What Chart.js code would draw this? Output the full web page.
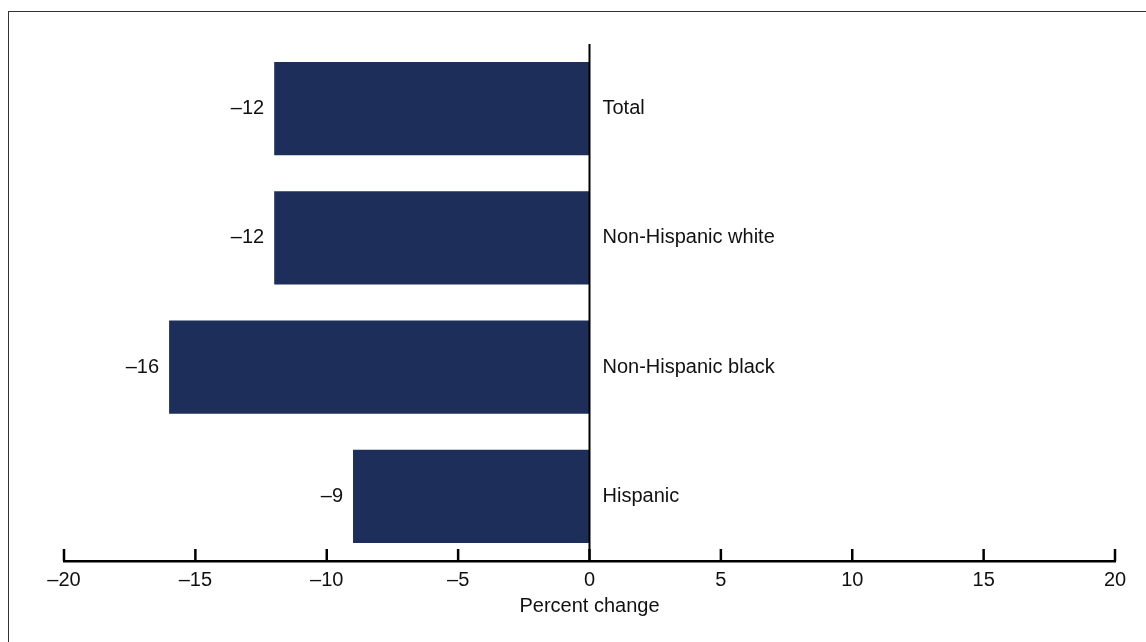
<!DOCTYPE html>
<html>
<head>
<meta charset="utf-8">
<script src="https://cdn.jsdelivr.net/npm/chart.js@4"></script>
<style>
  html, body { margin: 0; padding: 0; background: #fff; }
  #wrap { position: relative; width: 1146px; height: 642px; overflow: hidden; }
  #frame { position: absolute; left: 8px; top: 11px; width: 1200px; height: 700px;
           border-left: 1.5px solid #333; border-top: 1.5px solid #333; }
  canvas { position: absolute; left: 0; top: 0; }
</style>
</head>
<body>
<div id="wrap">
  <div id="frame"></div>
  <canvas id="barChart" width="1146" height="642"></canvas>
</div>
<script>
// data
const categories = ["Total", "Non-Hispanic white", "Non-Hispanic black", "Hispanic"];
const percentChange = [-12, -12, -16, -9];
const xTicks = [-20, -15, -10, -5, 0, 5, 10, 15, 20];

const fmt = v => (v < 0 ? "\u2013" + Math.abs(v) : String(v));
const font = "Liberation Sans, Arial, sans-serif";

// labels, zero line and upward tick marks
const decor = {
  id: "decor",
  afterDatasetsDraw(chart) {
    const ctx = chart.ctx;
    const x = chart.scales.x;
    const area = chart.chartArea;
    const x0 = x.getPixelForValue(0);
    ctx.save();

    // tick marks pointing up
    ctx.strokeStyle = "#000";
    ctx.lineWidth = 2.5;
    xTicks.forEach(t => {
      const px = x.getPixelForValue(t);
      ctx.beginPath();
      ctx.moveTo(px, area.bottom);
      ctx.lineTo(px, area.bottom - 12);
      ctx.stroke();
    });

    // zero line
    ctx.lineWidth = 2;
    ctx.beginPath();
    ctx.moveTo(x0, area.top);
    ctx.lineTo(x0, area.bottom);
    ctx.stroke();

    ctx.fillStyle = "#111";
    ctx.font = "20px " + font;
    ctx.textBaseline = "middle";
    chart.getDatasetMeta(0).data.forEach((bar, i) => {
      ctx.textAlign = "right";
      ctx.fillText(fmt(percentChange[i]), bar.x - 10, bar.y);
      ctx.textAlign = "left";
      ctx.fillText(categories[i], x0 + 13, bar.y);
    });
    ctx.restore();
  }
};

new Chart(document.getElementById("barChart"), {
  type: "bar",
  data: {
    labels: categories,
    datasets: [
      {
        label: "Percent change",
        data: percentChange,
        backgroundColor: "#1c2e59",
        categoryPercentage: 1,
        barPercentage: 0.72,
      },
    ],
  },
  options: {
    indexAxis: "y",
    responsive: false,
    animation: false,
    layout: {
      padding: { left: 64, right: 31, top: 44, bottom: 24 },
    },
    plugins: {
      legend: { display: false },
      tooltip: { enabled: false },
    },
    scales: {
      x: {
        min: -20,
        max: 20,
        afterBuildTicks: scale => {
          scale.ticks = xTicks.map(v => ({ value: v }));
        },
        grid: { display: false, drawTicks: false },
        border: { display: true, color: "#000", width: 2.5 },
        ticks: {
          color: "#111",
          padding: 7,
          font: { family: font, size: 20 },
          callback: v => fmt(v),
        },
        title: {
          display: true,
          text: "Percent change",
          color: "#111",
          padding: { top: -5, bottom: 0 },
          font: { family: font, size: 20 },
        },
      },
      y: {
        display: false,
      },
    },
  },
  plugins: [decor],
});
</script>
</body>
</html>
